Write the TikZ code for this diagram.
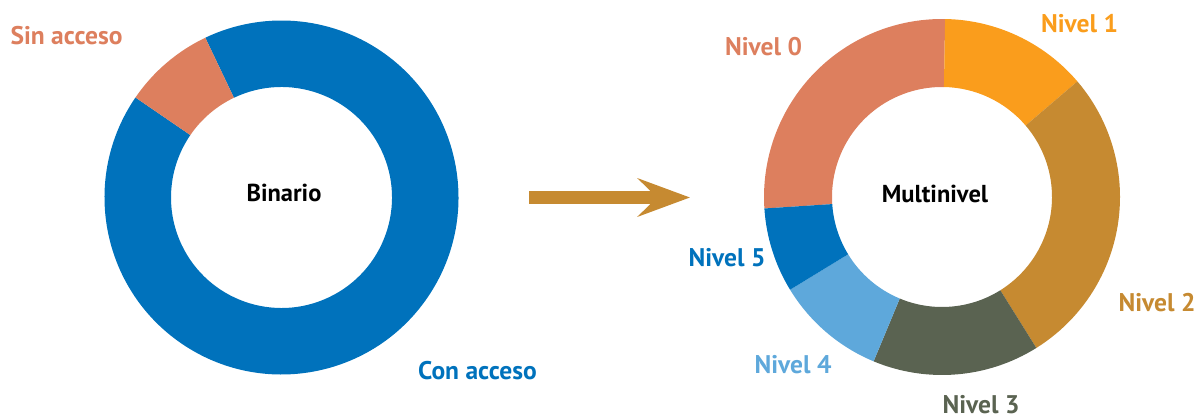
\documentclass[tikz,border=0pt]{standalone}
\usepackage{fontspec}
\setmainfont{PT Sans}
\usetikzlibrary{calc,arrows.meta}
\definecolor{salmon}{HTML}{DD7F5E}
\definecolor{bblue}{HTML}{0072BC}
\definecolor{orng}{HTML}{FA9D1C}
\definecolor{gold}{HTML}{C68A31}
\definecolor{darkg}{HTML}{5A6351}
\definecolor{lblue}{HTML}{5EA8DB}
\newcommand\ringseg[4]{%
  \fill[#4] ($(#1)+(#2:178pt)$) arc[start angle=#2, end angle=#3, radius=178pt]
    -- ($(#1)+(#3:110pt)$) arc[start angle=#3, end angle=#2, radius=110pt] -- cycle;}
\newcommand\ringsegL[4]{%
  \fill[#4] ($(#1)+(#2:177pt)$) arc[start angle=#2, end angle=#3, radius=177pt]
    -- ($(#1)+(#3:110.5pt)$) arc[start angle=#3, end angle=#2, radius=110.5pt] -- cycle;}
\tikzset{
  lab/.style={anchor=base, inner sep=0pt, font=\fontsize{25.5}{28}\selectfont\bfseries},
  ctr/.style={anchor=base, inner sep=0pt, font=\fontsize{24.5}{27}\selectfont\bfseries, text=black},
  bigarrow/.style={gold, line width=13pt, -{Stealth[length=52pt, width=38pt, inset=19pt]}}
}
\begin{document}
\begin{tikzpicture}[x=1pt,y=1pt]
\useasboundingbox (0,0) rectangle (1198,417);
\coordinate (L) at (281.5,219.5);
\coordinate (R) at (942,220);
% left donut
\ringsegL{L}{145.6}{475.5}{bblue}
\ringsegL{L}{115.5}{145.6}{salmon}
% right donut
\ringseg{R}{89}{183.7}{salmon}
\ringseg{R}{40.5}{89}{orng}
\ringseg{R}{-58}{40.5}{gold}
\ringseg{R}{-112.6}{-58}{darkg}
\ringseg{R}{211.4}{247.4}{lblue}
\ringseg{R}{183.7}{211.4}{bblue}
% arrow
\coordinate (as) at (529,219.5);
\coordinate (ae) at (690,219.5);
\draw[bigarrow] (as) -- (ae);
% labels
\node[lab, text=salmon] (sin) at (66.5,372) {Sin acceso};
\node[lab, text=bblue] (con) at (477.5,37) {Con acceso};
\node[ctr] (bin) at (284,215.3) {Binario};
\node[ctr] (mul) at (935,214) {Multinivel};
\node[lab, text=salmon] (n0) at (763.5,361) {Nivel 0};
\node[lab, text=orng] (n1) at (1079.5,384.3) {Nivel 1};
\node[lab, text=gold] (n2) at (1157,105.5) {Nivel 2};
\node[lab, text=darkg] (n3) at (981,3) {Nivel 3};
\node[lab, text=lblue] (n4) at (793,43) {Nivel 4};
\node[lab, text=bblue] (n5) at (727,150.3) {Nivel 5};
\end{tikzpicture}
\end{document}
